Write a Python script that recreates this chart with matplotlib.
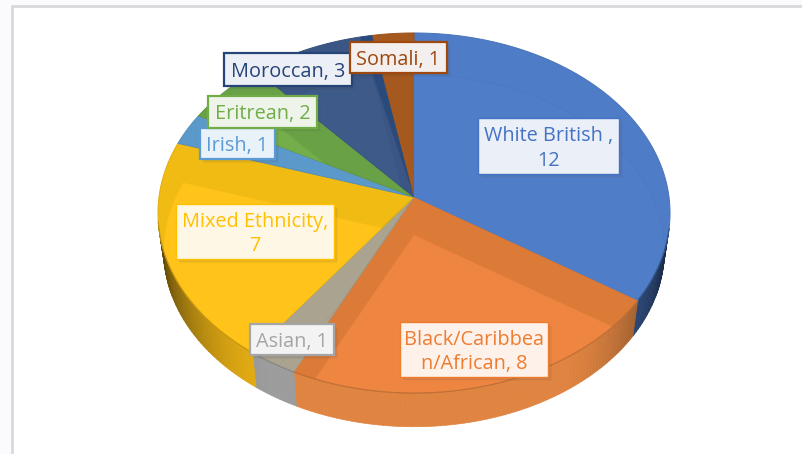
import numpy as np
import matplotlib
matplotlib.use('Agg')
import matplotlib.pyplot as plt
from matplotlib.patches import Polygon, Rectangle

categories = ['White British', 'Black/Caribbean/African', 'Asian', 'Mixed Ethnicity',
              'Irish', 'Eritrean', 'Moroccan', 'Somali']
values = [12, 8, 1, 7, 1, 2, 3, 1]
label_text = ['White British ,\n12', 'Black/Caribbea\nn/African, 8', 'Asian, 1',
              'Mixed Ethnicity,\n7', 'Irish, 1', 'Eritrean, 2', 'Moroccan, 3', 'Somali, 1']

top_colors = ['#4f7cc7', '#dc7a38', '#a9a38f', '#f0bb12', '#5a99c9', '#69a246', '#3b5684', '#a5591f']
inner_colors = ['#507dc8', '#ee8642', '#a9a38f', '#ffc319', '#5a99c9', '#73ae4b', '#3e5a88', '#a5591f']
wall_colors = ['#3a5f9f', '#e08441', '#9c9c9c', '#e6ae12', '#5a99c9', '#69a246', '#3b5684', '#a5591f']
edge_colors = ['#4472c4', '#ed7d31', '#a5a5a5', '#ffc000', '#5b9bd5', '#70ad47', '#264478', '#9e480e']
label_fill = ['#ebf0f8', '#fdf1ea', '#f3f3f3', '#fff7e6', '#eaf2f9', '#eef4ea', '#eceff5', '#f2efee']

# label boxes as pixels: left, top, right, bottom
label_boxes = [(478, 118, 619, 174), (400, 322, 548, 377), (250, 324, 334, 355), (176, 204, 334, 259),
               (200, 128, 275, 159), (208, 96, 317, 128), (224, 53, 352, 86), (350, 42, 447, 73)]

# perspective ellipse fitted on the picture
CX, CY, RX, RY, K = 414, 197, 255, 178.6, 0.0889
CY_LOW, SCALE_LOW = 235, 0.978


def project(theta, low=False):
    u, v = np.sin(np.radians(theta)), np.cos(np.radians(theta))
    w = 1 + K * v
    if low:
        return CX + SCALE_LOW * RX * u / w, CY_LOW - SCALE_LOW * RY * v / w
    return CX + RX * u / w, CY - RY * v / w


def wedge(a, b, low=False):
    t = np.linspace(a, b, max(int(b - a) * 2, 4))
    x, y = project(t, low)
    apex = (CX, CY_LOW) if low else (CX, CY)
    return np.vstack([apex, np.column_stack([x, y])])


def shade(hex_color, f):
    r, g, b = matplotlib.colors.to_rgb(hex_color)
    return (r * f, g * f, b * f)


fig = plt.figure(figsize=(8.02, 4.54), dpi=100, facecolor='#fbfbfd')
ax = fig.add_axes([0, 0, 1, 1])
ax.set_xlim(0, 802)
ax.set_ylim(454, 0)
ax.axis('off')

ax.add_patch(Rectangle((12, 6), 800, 460, fc='white', ec='#d9d9d9', lw=2))

angles = np.concatenate([[0], np.cumsum(values)]) / sum(values) * 360

# side wall, shaded towards the edges
for i in range(len(values)):
    a, b = angles[i], angles[i + 1]
    lo, hi = max(a, 100), min(b, 262)
    if hi <= lo:
        continue
    steps = np.arange(lo, hi + 1, 1.0)
    steps[-1] = hi
    for s, e in zip(steps[:-1], steps[1:]):
        x1, y1 = project(np.array([s, e]))
        x2, y2 = project(np.array([e, s]), low=True)
        u = abs(np.sin(np.radians((s + e) / 2)))
        f = 1 - 0.6 * max(0, (u - 0.5) / 0.5) ** 2
        ax.fill(np.r_[x1, x2], np.r_[y1, y2], color=shade(wall_colors[i], f), lw=0.5, zorder=1)

# top faces, with the base of the pie showing through them
for i in range(len(values)):
    a, b = angles[i], angles[i + 1]
    top = Polygon(wedge(a, b), closed=True, fc=top_colors[i], ec=shade(top_colors[i], 0.93), lw=0.7, zorder=2)
    ax.add_patch(top)
    inner = Polygon(wedge(a, b, low=True), closed=True, fc=inner_colors[i],
                    ec=shade(inner_colors[i], 0.96), lw=0.5, zorder=3)
    ax.add_patch(inner)
    inner.set_clip_path(top)

# darker side of the Moroccan slice next to Somali
a = angles[7]
sliver = wedge(a - 3, a)
ax.add_patch(Polygon(sliver, closed=True, fc='#2b4a7c', ec='none', zorder=4))

# front rim line
for i in range(len(values)):
    lo, hi = max(angles[i], 100), min(angles[i + 1], 262)
    if hi > lo:
        x, y = project(np.linspace(lo, hi, 60))
        ax.plot(x, y, color=shade(wall_colors[i], 0.85), lw=0.8, zorder=4)

# data labels
for i in range(len(values)):
    x0, y0, x1, y1 = label_boxes[i]
    for off, al in [(5, 0.05), (3.5, 0.07), (2, 0.08)]:
        ax.add_patch(Rectangle((x0 + off - 1, y0 + off - 1), x1 - x0, y1 - y0, fc='#444444', ec='none',
                               alpha=al, zorder=5))
    lw = 1.6 if i in (2, 4, 5, 6, 7) else 1.0
    ax.add_patch(Rectangle((x0, y0), x1 - x0, y1 - y0, fc=label_fill[i], ec=edge_colors[i], lw=lw, zorder=6))
    ax.text((x0 + x1) / 2, (y0 + y1) / 2 + 2.5, label_text[i], color=edge_colors[i], ha='center', va='center',
            family='Open Sans', fontsize=14.3, linespacing=1.32, zorder=7)

fig.savefig('out.png', dpi=100, facecolor=fig.get_facecolor())
